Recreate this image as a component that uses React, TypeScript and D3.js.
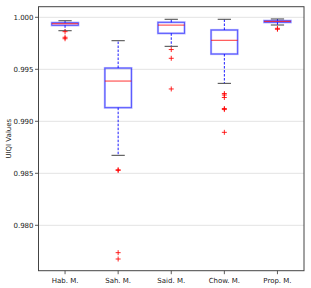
import React from "react";
import * as d3 from "d3";

const categories = ["Hab. M.", "Sah. M.", "Said. M.", "Chow. M.", "Prop. M."];
const q1 = [0.99923, 0.99131, 0.99846, 0.99647, 0.99952];
const median = [0.99938, 0.99387, 0.99925, 0.99779, 0.99961];
const q3 = [0.99948, 0.99512, 0.99952, 0.99878, 0.99967];
const whiskerLow = [0.99871, 0.98673, 0.99721, 0.99365, 0.99926];
const whiskerHigh = [0.99967, 0.99775, 0.99981, 0.99981, 0.99984];
const outliers: number[][] = [
  [0.99862, 0.99808, 0.99794],
  [0.98534, 0.98528, 0.97737, 0.97676],
  [0.9969, 0.99606, 0.99311],
  [0.99267, 0.99253, 0.99229, 0.99123, 0.99113, 0.98894],
  [0.99894, 0.99885],
];
const yTicks = [0.98, 0.985, 0.99, 0.995, 1.0];
const yLabel = "UIQI Values";

export default function App() {
  const W = 311, H = 288;
  const left = 38.5, right = 304, top = 6.7, bottom = 270.7;
  const x = d3.scaleLinear().domain([0.5, 5.5]).range([left, right]);
  const y = d3.scaleLinear().domain([0.975635, 1.00102]).range([bottom, top]);
  const step = x(2) - x(1);
  const boxW = step * 0.5;
  const capW = boxW * 0.5;
  const font = "DejaVu Sans, sans-serif";

  return (
    <svg width={W} height={H} style={{ position: "absolute", left: 0, top: 0 }}>
      <rect x={0} y={0} width={W} height={H} fill="white" />
      {yTicks.map((t) => (
        <g key={t}>
          <line x1={left} x2={right} y1={y(t)} y2={y(t)} stroke="#e3e3e3" strokeWidth={1} />
          <line x1={left - 3.5} x2={left} y1={y(t)} y2={y(t)} stroke="#333" strokeWidth={0.8} />
          <text x={left - 5} y={y(t)} dy="0.35em" textAnchor="end" fontSize={7} fontFamily={font} fill="#222">
            {d3.format(".3f")(t)}
          </text>
        </g>
      ))}
      {categories.map((c, i) => {
        const cx = x(i + 1);
        return (
          <g key={c}>
            <line x1={cx} x2={cx} y1={y(q3[i])} y2={y(whiskerHigh[i])} stroke="blue" strokeWidth={0.9} strokeDasharray="2.5,1.5" />
            <line x1={cx} x2={cx} y1={y(q1[i])} y2={y(whiskerLow[i])} stroke="blue" strokeWidth={0.9} strokeDasharray="2.5,1.5" />
            <line x1={cx - capW / 2} x2={cx + capW / 2} y1={y(whiskerHigh[i])} y2={y(whiskerHigh[i])} stroke="#444" strokeWidth={1} />
            <line x1={cx - capW / 2} x2={cx + capW / 2} y1={y(whiskerLow[i])} y2={y(whiskerLow[i])} stroke="#444" strokeWidth={1} />
            <rect x={cx - boxW / 2} y={y(q3[i])} width={boxW} height={y(q1[i]) - y(q3[i])} fill="none" stroke="blue" strokeOpacity={0.3} strokeWidth={2.2} />
            <rect x={cx - boxW / 2} y={y(q3[i])} width={boxW} height={y(q1[i]) - y(q3[i])} fill="none" stroke="blue" strokeOpacity={0.55} strokeWidth={0.9} />
            <line x1={cx - boxW / 2} x2={cx + boxW / 2} y1={y(median[i])} y2={y(median[i])} stroke="red" strokeOpacity={0.8} strokeWidth={1} />
            {outliers[i].map((o, j) => (
              <g key={j} stroke="red" strokeWidth={1} strokeOpacity={0.85}>
                <line x1={cx - 2.5} x2={cx + 2.5} y1={y(o)} y2={y(o)} />
                <line x1={cx} x2={cx} y1={y(o) - 2.5} y2={y(o) + 2.5} />
              </g>
            ))}
            <line x1={cx} x2={cx} y1={bottom} y2={bottom + 3.5} stroke="#333" strokeWidth={0.8} />
            <text x={cx} y={bottom + 7} dy="0.71em" textAnchor="middle" fontSize={7} fontFamily={font} fill="#222">
              {c}
            </text>
          </g>
        );
      })}
      <rect x={left} y={top} width={right - left} height={bottom - top} fill="none" stroke="#444" strokeWidth={1} />
      <text
        transform={`translate(9,${(top + bottom) / 2}) rotate(-90)`}
        textAnchor="middle"
        dy="0.35em"
        fontSize={7}
        fontFamily={font}
        fill="#222"
      >
        {yLabel}
      </text>
    </svg>
  );
}
